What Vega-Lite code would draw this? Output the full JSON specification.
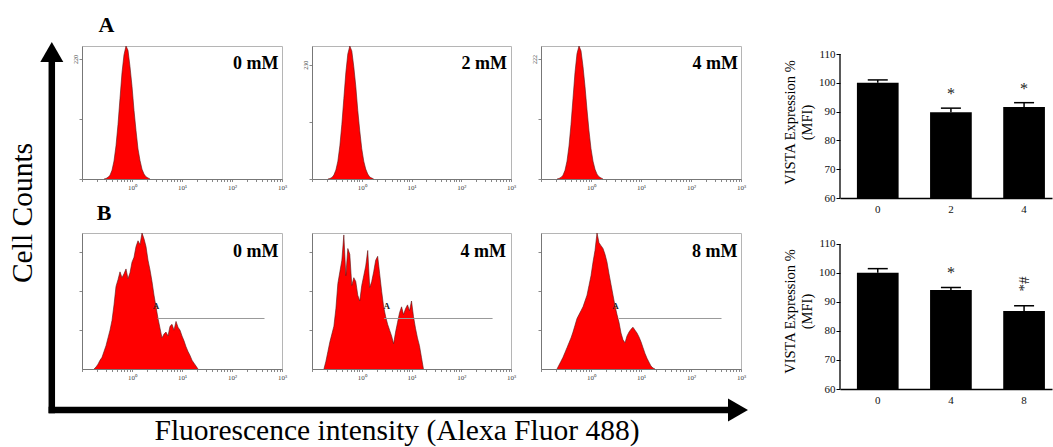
{
"$schema": "https://vega.github.io/schema/vega-lite/v6.json",
"background": "white",
"padding": 0,
"autosize": {"type": "pad"},
"config": {"view": {"stroke": null}, "font": "Liberation Serif"},
"datasets": {
"hist": [
{"panel":"A1","log_intensity":-0.56,"count":0},{"panel":"A1","log_intensity":-0.52,"count":1},{"panel":"A1","log_intensity":-0.48,"count":3},{"panel":"A1","log_intensity":-0.44,"count":7},{"panel":"A1","log_intensity":-0.40,"count":16},{"panel":"A1","log_intensity":-0.36,"count":33},{"panel":"A1","log_intensity":-0.32,"count":61},{"panel":"A1","log_intensity":-0.28,"count":100},{"panel":"A1","log_intensity":-0.24,"count":148},{"panel":"A1","log_intensity":-0.20,"count":195},{"panel":"A1","log_intensity":-0.16,"count":228},{"panel":"A1","log_intensity":-0.12,"count":244},{"panel":"A1","log_intensity":-0.08,"count":236},{"panel":"A1","log_intensity":-0.04,"count":206},{"panel":"A1","log_intensity":0.0,"count":170},{"panel":"A1","log_intensity":0.04,"count":126},{"panel":"A1","log_intensity":0.08,"count":89},{"panel":"A1","log_intensity":0.12,"count":55},{"panel":"A1","log_intensity":0.16,"count":34},{"panel":"A1","log_intensity":0.20,"count":18},{"panel":"A1","log_intensity":0.24,"count":9},{"panel":"A1","log_intensity":0.28,"count":4},{"panel":"A1","log_intensity":0.32,"count":2},{"panel":"A1","log_intensity":0.36,"count":0},
{"panel":"A2","log_intensity":-0.68,"count":0},{"panel":"A2","log_intensity":-0.64,"count":1},{"panel":"A2","log_intensity":-0.60,"count":3},{"panel":"A2","log_intensity":-0.56,"count":8},{"panel":"A2","log_intensity":-0.52,"count":18},{"panel":"A2","log_intensity":-0.48,"count":36},{"panel":"A2","log_intensity":-0.44,"count":67},{"panel":"A2","log_intensity":-0.40,"count":110},{"panel":"A2","log_intensity":-0.36,"count":162},{"panel":"A2","log_intensity":-0.32,"count":214},{"panel":"A2","log_intensity":-0.28,"count":252},{"panel":"A2","log_intensity":-0.24,"count":268},{"panel":"A2","log_intensity":-0.20,"count":258},{"panel":"A2","log_intensity":-0.16,"count":226},{"panel":"A2","log_intensity":-0.12,"count":187},{"panel":"A2","log_intensity":-0.08,"count":138},{"panel":"A2","log_intensity":-0.04,"count":97},{"panel":"A2","log_intensity":0.0,"count":61},{"panel":"A2","log_intensity":0.04,"count":36},{"panel":"A2","log_intensity":0.08,"count":20},{"panel":"A2","log_intensity":0.12,"count":10},{"panel":"A2","log_intensity":0.16,"count":4},{"panel":"A2","log_intensity":0.20,"count":2},{"panel":"A2","log_intensity":0.24,"count":0},
{"panel":"A3","log_intensity":-0.68,"count":0},{"panel":"A3","log_intensity":-0.64,"count":1},{"panel":"A3","log_intensity":-0.60,"count":3},{"panel":"A3","log_intensity":-0.56,"count":7},{"panel":"A3","log_intensity":-0.52,"count":16},{"panel":"A3","log_intensity":-0.48,"count":33},{"panel":"A3","log_intensity":-0.44,"count":61},{"panel":"A3","log_intensity":-0.40,"count":101},{"panel":"A3","log_intensity":-0.36,"count":149},{"panel":"A3","log_intensity":-0.32,"count":197},{"panel":"A3","log_intensity":-0.28,"count":232},{"panel":"A3","log_intensity":-0.24,"count":246},{"panel":"A3","log_intensity":-0.20,"count":237},{"panel":"A3","log_intensity":-0.16,"count":208},{"panel":"A3","log_intensity":-0.12,"count":171},{"panel":"A3","log_intensity":-0.08,"count":128},{"panel":"A3","log_intensity":-0.04,"count":89},{"panel":"A3","log_intensity":0.0,"count":56},{"panel":"A3","log_intensity":0.04,"count":33},{"panel":"A3","log_intensity":0.08,"count":18},{"panel":"A3","log_intensity":0.12,"count":9},{"panel":"A3","log_intensity":0.16,"count":4},{"panel":"A3","log_intensity":0.20,"count":2},{"panel":"A3","log_intensity":0.24,"count":0},
{"panel":"B1","log_intensity":-0.76,"count":0},{"panel":"B1","log_intensity":-0.72,"count":2},{"panel":"B1","log_intensity":-0.68,"count":5},{"panel":"B1","log_intensity":-0.64,"count":9},{"panel":"B1","log_intensity":-0.60,"count":12},{"panel":"B1","log_intensity":-0.56,"count":18},{"panel":"B1","log_intensity":-0.52,"count":24},{"panel":"B1","log_intensity":-0.48,"count":32},{"panel":"B1","log_intensity":-0.44,"count":40},{"panel":"B1","log_intensity":-0.40,"count":50},{"panel":"B1","log_intensity":-0.36,"count":66},{"panel":"B1","log_intensity":-0.32,"count":85},{"panel":"B1","log_intensity":-0.28,"count":92},{"panel":"B1","log_intensity":-0.24,"count":100},{"panel":"B1","log_intensity":-0.20,"count":94},{"panel":"B1","log_intensity":-0.16,"count":98},{"panel":"B1","log_intensity":-0.12,"count":103},{"panel":"B1","log_intensity":-0.08,"count":93},{"panel":"B1","log_intensity":-0.04,"count":99},{"panel":"B1","log_intensity":0.0,"count":110},{"panel":"B1","log_intensity":0.04,"count":115},{"panel":"B1","log_intensity":0.08,"count":126},{"panel":"B1","log_intensity":0.12,"count":132},{"panel":"B1","log_intensity":0.16,"count":128},{"panel":"B1","log_intensity":0.20,"count":140},{"panel":"B1","log_intensity":0.24,"count":134},{"panel":"B1","log_intensity":0.28,"count":126},{"panel":"B1","log_intensity":0.32,"count":112},{"panel":"B1","log_intensity":0.36,"count":102},{"panel":"B1","log_intensity":0.40,"count":90},{"panel":"B1","log_intensity":0.44,"count":76},{"panel":"B1","log_intensity":0.48,"count":64},{"panel":"B1","log_intensity":0.52,"count":52},{"panel":"B1","log_intensity":0.56,"count":42},{"panel":"B1","log_intensity":0.60,"count":32},{"panel":"B1","log_intensity":0.64,"count":36},{"panel":"B1","log_intensity":0.68,"count":38},{"panel":"B1","log_intensity":0.72,"count":34},{"panel":"B1","log_intensity":0.76,"count":44},{"panel":"B1","log_intensity":0.80,"count":46},{"panel":"B1","log_intensity":0.84,"count":40},{"panel":"B1","log_intensity":0.88,"count":49},{"panel":"B1","log_intensity":0.92,"count":43},{"panel":"B1","log_intensity":0.96,"count":40},{"panel":"B1","log_intensity":1.00,"count":34},{"panel":"B1","log_intensity":1.04,"count":29},{"panel":"B1","log_intensity":1.08,"count":23},{"panel":"B1","log_intensity":1.12,"count":18},{"panel":"B1","log_intensity":1.16,"count":14},{"panel":"B1","log_intensity":1.20,"count":9},{"panel":"B1","log_intensity":1.24,"count":6},{"panel":"B1","log_intensity":1.28,"count":3},{"panel":"B1","log_intensity":1.32,"count":0},
{"panel":"B2","log_intensity":-0.76,"count":0},{"panel":"B2","log_intensity":-0.72,"count":8},{"panel":"B2","log_intensity":-0.68,"count":18},{"panel":"B2","log_intensity":-0.64,"count":28},{"panel":"B2","log_intensity":-0.60,"count":36},{"panel":"B2","log_intensity":-0.56,"count":44},{"panel":"B2","log_intensity":-0.52,"count":62},{"panel":"B2","log_intensity":-0.48,"count":88},{"panel":"B2","log_intensity":-0.44,"count":100},{"panel":"B2","log_intensity":-0.40,"count":112},{"panel":"B2","log_intensity":-0.36,"count":138},{"panel":"B2","log_intensity":-0.32,"count":96},{"panel":"B2","log_intensity":-0.28,"count":124},{"panel":"B2","log_intensity":-0.24,"count":118},{"panel":"B2","log_intensity":-0.20,"count":86},{"panel":"B2","log_intensity":-0.16,"count":94},{"panel":"B2","log_intensity":-0.12,"count":90},{"panel":"B2","log_intensity":-0.08,"count":76},{"panel":"B2","log_intensity":-0.04,"count":70},{"panel":"B2","log_intensity":0.0,"count":86},{"panel":"B2","log_intensity":0.04,"count":96},{"panel":"B2","log_intensity":0.08,"count":106},{"panel":"B2","log_intensity":0.12,"count":122},{"panel":"B2","log_intensity":0.16,"count":84},{"panel":"B2","log_intensity":0.20,"count":90},{"panel":"B2","log_intensity":0.24,"count":100},{"panel":"B2","log_intensity":0.28,"count":112},{"panel":"B2","log_intensity":0.32,"count":116},{"panel":"B2","log_intensity":0.36,"count":98},{"panel":"B2","log_intensity":0.40,"count":80},{"panel":"B2","log_intensity":0.44,"count":64},{"panel":"B2","log_intensity":0.48,"count":54},{"panel":"B2","log_intensity":0.52,"count":46},{"panel":"B2","log_intensity":0.56,"count":40},{"panel":"B2","log_intensity":0.60,"count":34},{"panel":"B2","log_intensity":0.64,"count":26},{"panel":"B2","log_intensity":0.68,"count":38},{"panel":"B2","log_intensity":0.72,"count":48},{"panel":"B2","log_intensity":0.76,"count":58},{"panel":"B2","log_intensity":0.80,"count":64},{"panel":"B2","log_intensity":0.84,"count":56},{"panel":"B2","log_intensity":0.88,"count":62},{"panel":"B2","log_intensity":0.92,"count":66},{"panel":"B2","log_intensity":0.96,"count":60},{"panel":"B2","log_intensity":1.00,"count":70},{"panel":"B2","log_intensity":1.04,"count":54},{"panel":"B2","log_intensity":1.08,"count":42},{"panel":"B2","log_intensity":1.12,"count":32},{"panel":"B2","log_intensity":1.16,"count":24},{"panel":"B2","log_intensity":1.20,"count":12},{"panel":"B2","log_intensity":1.24,"count":0},
{"panel":"B3","log_intensity":-0.68,"count":0},{"panel":"B3","log_intensity":-0.64,"count":4},{"panel":"B3","log_intensity":-0.60,"count":8},{"panel":"B3","log_intensity":-0.56,"count":12},{"panel":"B3","log_intensity":-0.52,"count":17},{"panel":"B3","log_intensity":-0.48,"count":22},{"panel":"B3","log_intensity":-0.44,"count":27},{"panel":"B3","log_intensity":-0.40,"count":32},{"panel":"B3","log_intensity":-0.36,"count":38},{"panel":"B3","log_intensity":-0.32,"count":45},{"panel":"B3","log_intensity":-0.28,"count":52},{"panel":"B3","log_intensity":-0.24,"count":56},{"panel":"B3","log_intensity":-0.20,"count":60},{"panel":"B3","log_intensity":-0.16,"count":64},{"panel":"B3","log_intensity":-0.12,"count":70},{"panel":"B3","log_intensity":-0.08,"count":76},{"panel":"B3","log_intensity":-0.04,"count":86},{"panel":"B3","log_intensity":0.0,"count":96},{"panel":"B3","log_intensity":0.04,"count":110},{"panel":"B3","log_intensity":0.08,"count":122},{"panel":"B3","log_intensity":0.12,"count":140},{"panel":"B3","log_intensity":0.16,"count":130},{"panel":"B3","log_intensity":0.20,"count":127},{"panel":"B3","log_intensity":0.24,"count":124},{"panel":"B3","log_intensity":0.28,"count":118},{"panel":"B3","log_intensity":0.32,"count":110},{"panel":"B3","log_intensity":0.36,"count":98},{"panel":"B3","log_intensity":0.40,"count":87},{"panel":"B3","log_intensity":0.44,"count":76},{"panel":"B3","log_intensity":0.48,"count":65},{"panel":"B3","log_intensity":0.52,"count":56},{"panel":"B3","log_intensity":0.56,"count":48},{"panel":"B3","log_intensity":0.60,"count":37},{"panel":"B3","log_intensity":0.64,"count":30},{"panel":"B3","log_intensity":0.68,"count":27},{"panel":"B3","log_intensity":0.72,"count":34},{"panel":"B3","log_intensity":0.76,"count":38},{"panel":"B3","log_intensity":0.80,"count":41},{"panel":"B3","log_intensity":0.84,"count":43},{"panel":"B3","log_intensity":0.88,"count":40},{"panel":"B3","log_intensity":0.92,"count":37},{"panel":"B3","log_intensity":0.96,"count":33},{"panel":"B3","log_intensity":1.00,"count":28},{"panel":"B3","log_intensity":1.04,"count":22},{"panel":"B3","log_intensity":1.08,"count":16},{"panel":"B3","log_intensity":1.12,"count":11},{"panel":"B3","log_intensity":1.16,"count":7},{"panel":"B3","log_intensity":1.20,"count":3},{"panel":"B3","log_intensity":1.24,"count":1},{"panel":"B3","log_intensity":1.28,"count":0}
],
"barsA": [{"conc":"0","mfi":100.0,"hi":101.0,"sig":""},{"conc":"2","mfi":89.8,"hi":91.2,"sig":"*"},{"conc":"4","mfi":91.6,"hi":93.1,"sig":"*"}],
"barsB": [{"conc":"0","mfi":100.1,"hi":101.5,"sig":""},{"conc":"4","mfi":94.1,"hi":95.0,"sig":"*"},{"conc":"8","mfi":86.9,"hi":88.7,"sig":""}]
},
"columns": 5,
"align": "each",
"bounds": "flush",
"spacing": {"row": 35, "column": 30},
"concat": [
{
 "width": 52, "height": 11,
 "data": {"values": [{}]},
 "layer": [
  {"mark": {"type": "rect", "color": "white"},
   "encoding": {
    "x": {"datum": 0, "type": "quantitative", "scale": {"domain": [0, 52], "nice": false, "zero": false}, "axis": null},
    "x2": {"datum": 1053},
    "y": {"datum": 0, "type": "quantitative", "scale": {"domain": [0, 11], "nice": false, "zero": false, "reverse": true}, "axis": null},
    "y2": {"datum": 447}}},
  {"mark": {"type": "rule", "color": "black", "strokeWidth": 6.5},
   "encoding": {"x": {"datum": 51.8, "type": "quantitative", "axis": null}, "y": {"datum": 55, "type": "quantitative", "axis": null}, "y2": {"datum": 413.3}}},
  {"mark": {"type": "rule", "color": "black", "strokeWidth": 6.5},
   "encoding": {"x": {"datum": 48.6, "type": "quantitative", "axis": null}, "x2": {"datum": 735}, "y": {"datum": 410, "type": "quantitative", "axis": null}}},
  {"mark": {"type": "point", "shape": "triangle-up", "filled": true, "color": "black", "opacity": 1, "size": 530, "strokeWidth": 0},
   "encoding": {"x": {"datum": 51.8, "type": "quantitative", "axis": null}, "y": {"datum": 52, "type": "quantitative", "axis": null}}},
  {"mark": {"type": "point", "shape": "triangle-right", "filled": true, "color": "black", "opacity": 1, "size": 530, "strokeWidth": 0},
   "encoding": {"x": {"datum": 738, "type": "quantitative", "axis": null}, "y": {"datum": 410, "type": "quantitative", "axis": null}}},
  {"mark": {"type": "text", "angle": 270, "align": "center", "baseline": "middle", "fontSize": 29.5, "font": "Liberation Serif", "color": "black"},
   "encoding": {"x": {"datum": 23, "type": "quantitative", "axis": null}, "y": {"datum": 213, "type": "quantitative", "axis": null}, "text": {"value": "Cell Counts"}}},
  {"mark": {"type": "text", "align": "center", "baseline": "alphabetic", "fontSize": 29.5, "font": "Liberation Serif", "color": "black"},
   "encoding": {"x": {"datum": 397, "type": "quantitative", "axis": null}, "y": {"datum": 440, "type": "quantitative", "axis": null}, "text": {"value": "Fluorescence intensity (Alexa Fluor 488)"}}},
  {"mark": {"type": "text", "align": "center", "baseline": "alphabetic", "fontSize": 22, "fontWeight": "bold", "font": "Liberation Serif", "color": "black"},
   "encoding": {"x": {"datum": 106.5, "type": "quantitative", "axis": null}, "y": {"datum": 31.7, "type": "quantitative", "axis": null}, "text": {"value": "A"}}},
  {"mark": {"type": "text", "align": "center", "baseline": "alphabetic", "fontSize": 22, "fontWeight": "bold", "font": "Liberation Serif", "color": "black"},
   "encoding": {"x": {"datum": 104, "type": "quantitative", "axis": null}, "y": {"datum": 220, "type": "quantitative", "axis": null}, "text": {"value": "B"}}}
 ]
},
{"width": 1, "height": 1, "data": {"values": []}, "mark": "point"},
{"width": 1, "height": 1, "data": {"values": []}, "mark": "point"},
{"width": 269, "height": 1, "data": {"values": []}, "mark": "point"},
{"width": 1, "height": 1, "data": {"values": []}, "mark": "point"},
{"width": 1, "height": 1, "data": {"values": []}, "mark": "point"},
{
 "width": 200, "height": 133, "view": {"stroke": "#b5b5b5"},
 "resolve": {"axis": {"x": "independent", "y": "independent"}},
 "layer": [
  {"data": {"name": "hist"}, "transform": [{"filter": "datum.panel == 'A1'"}],
   "mark": {"type": "area", "color": "#ff0000", "opacity": 1, "line": {"color": "#5a1515", "strokeWidth": 0.6}},
   "encoding": {
    "x": {"field": "log_intensity", "type": "quantitative", "scale": {"domain": [-1, 3], "nice": false, "zero": false},
     "axis": {"values": [-1,-0.699,-0.523,-0.398,-0.301,-0.222,-0.155,-0.097,-0.046,0,0.301,0.477,0.602,0.699,0.778,0.845,0.903,0.954,1,1.301,1.477,1.602,1.699,1.778,1.845,1.903,1.954,2,2.301,2.477,2.602,2.699,2.778,2.845,2.903,2.954,3],
      "labelExpr": "datum.value == 0 ? '10⁰' : datum.value == 1 ? '10¹' : datum.value == 2 ? '10²' : datum.value == 3 ? '10³' : ''",
      "title": null, "grid": false, "domainColor": "#777", "tickColor": "#888", "tickSize": 2.5, "labelFontSize": 7, "labelColor": "#444", "labelFlush": false, "labelOverlap": false, "labelPadding": 2}},
    "y": {"field": "count", "type": "quantitative", "scale": {"domain": [0, 244], "nice": false},
     "axis": {"values": [0, 110, 220], "labelExpr": "datum.value == 220 ? '220' : ''", "labelAngle": 270, "labelFontSize": 6, "labelColor": "#444", "title": null, "grid": false, "domainColor": "#777", "tickColor": "#888", "tickSize": 3, "labelPadding": 1, "labelOverlap": false}}}},
  {"data": {"values": [{"label": "0 mM"}]},
   "mark": {"type": "text", "fontSize": 18, "fontWeight": "bold", "align": "right", "baseline": "middle", "color": "black"},
   "encoding": {"x": {"datum": 2.93, "axis": null}, "y": {"datum": 211, "axis": null}, "text": {"field": "label"}}}
 ]
},
{
 "width": 199, "height": 133, "view": {"stroke": "#b5b5b5"},
 "resolve": {"axis": {"x": "independent", "y": "independent"}},
 "layer": [
  {"data": {"name": "hist"}, "transform": [{"filter": "datum.panel == 'A2'"}],
   "mark": {"type": "area", "color": "#ff0000", "opacity": 1, "line": {"color": "#5a1515", "strokeWidth": 0.6}},
   "encoding": {
    "x": {"field": "log_intensity", "type": "quantitative", "scale": {"domain": [-1, 3], "nice": false, "zero": false},
     "axis": {"values": [-1,-0.699,-0.523,-0.398,-0.301,-0.222,-0.155,-0.097,-0.046,0,0.301,0.477,0.602,0.699,0.778,0.845,0.903,0.954,1,1.301,1.477,1.602,1.699,1.778,1.845,1.903,1.954,2,2.301,2.477,2.602,2.699,2.778,2.845,2.903,2.954,3],
      "labelExpr": "datum.value == 0 ? '10⁰' : datum.value == 1 ? '10¹' : datum.value == 2 ? '10²' : datum.value == 3 ? '10³' : ''",
      "title": null, "grid": false, "domainColor": "#777", "tickColor": "#888", "tickSize": 2.5, "labelFontSize": 7, "labelColor": "#444", "labelFlush": false, "labelOverlap": false, "labelPadding": 2}},
    "y": {"field": "count", "type": "quantitative", "scale": {"domain": [0, 268], "nice": false},
     "axis": {"values": [0, 115, 230], "labelExpr": "datum.value == 230 ? '230' : ''", "labelAngle": 270, "labelFontSize": 6, "labelColor": "#444", "title": null, "grid": false, "domainColor": "#777", "tickColor": "#888", "tickSize": 3, "labelPadding": 1, "labelOverlap": false}}}},
  {"data": {"values": [{"label": "2 mM"}]},
   "mark": {"type": "text", "fontSize": 18, "fontWeight": "bold", "align": "right", "baseline": "middle", "color": "black"},
   "encoding": {"x": {"datum": 2.92, "axis": null}, "y": {"datum": 232, "axis": null}, "text": {"field": "label"}}}
 ]
},
{
 "width": 200, "height": 133, "view": {"stroke": "#b5b5b5"},
 "resolve": {"axis": {"x": "independent", "y": "independent"}},
 "layer": [
  {"data": {"name": "hist"}, "transform": [{"filter": "datum.panel == 'A3'"}],
   "mark": {"type": "area", "color": "#ff0000", "opacity": 1, "line": {"color": "#5a1515", "strokeWidth": 0.6}},
   "encoding": {
    "x": {"field": "log_intensity", "type": "quantitative", "scale": {"domain": [-1, 3], "nice": false, "zero": false},
     "axis": {"values": [-1,-0.699,-0.523,-0.398,-0.301,-0.222,-0.155,-0.097,-0.046,0,0.301,0.477,0.602,0.699,0.778,0.845,0.903,0.954,1,1.301,1.477,1.602,1.699,1.778,1.845,1.903,1.954,2,2.301,2.477,2.602,2.699,2.778,2.845,2.903,2.954,3],
      "labelExpr": "datum.value == 0 ? '10⁰' : datum.value == 1 ? '10¹' : datum.value == 2 ? '10²' : datum.value == 3 ? '10³' : ''",
      "title": null, "grid": false, "domainColor": "#777", "tickColor": "#888", "tickSize": 2.5, "labelFontSize": 7, "labelColor": "#444", "labelFlush": false, "labelOverlap": false, "labelPadding": 2}},
    "y": {"field": "count", "type": "quantitative", "scale": {"domain": [0, 246], "nice": false},
     "axis": {"values": [0, 111, 222], "labelExpr": "datum.value == 222 ? '222' : ''", "labelAngle": 270, "labelFontSize": 6, "labelColor": "#444", "title": null, "grid": false, "domainColor": "#777", "tickColor": "#888", "tickSize": 3, "labelPadding": 1, "labelOverlap": false}}}},
  {"data": {"values": [{"label": "4 mM"}]},
   "mark": {"type": "text", "fontSize": 18, "fontWeight": "bold", "align": "right", "baseline": "middle", "color": "black"},
   "encoding": {"x": {"datum": 2.94, "axis": null}, "y": {"datum": 213, "axis": null}, "text": {"field": "label"}}}
 ]
},
{
 "width": 212, "height": 152,
 "resolve": {"scale": {"x": "independent"}, "axis": {"x": "independent", "y": "independent"}},
 "layer": [
  {"data": {"name": "barsA"},
   "resolve": {"axis": {"x": "independent", "y": "independent"}},
   "layer": [
    {"mark": {"type": "bar", "color": "black", "clip": true},
     "encoding": {
      "x": {"field": "conc", "type": "ordinal", "sort": null, "scale": {"paddingInner": 0.43, "paddingOuter": 0.164, "align": 0.705},
       "axis": {"title": null, "labelAngle": 0, "ticks": false, "domainColor": "black", "domainWidth": 1.3, "labelFontSize": 11, "labelColor": "#111", "labelPadding": 5}},
      "y": {"field": "mfi", "type": "quantitative", "scale": {"domain": [60, 112.78], "nice": false, "zero": false},
       "axis": {"values": [60, 70, 80, 90, 100, 110], "domain": false, "grid": false, "tickColor": "black", "tickSize": 4, "labelFontSize": 11, "labelColor": "#111", "labelPadding": 1, "labelOverlap": false,
        "title": ["VISTA Expression %", "(MFI)"], "titleFontSize": 14.5, "titleLineHeight": 17, "titleFontWeight": "normal", "titleColor": "black", "titlePadding": 4}}}},
    {"mark": {"type": "rule", "color": "black", "strokeWidth": 1.5},
     "encoding": {"x": {"field": "conc", "type": "ordinal", "sort": null, "axis": null}, "y": {"field": "mfi", "type": "quantitative", "axis": null}, "y2": {"field": "hi"}}},
    {"mark": {"type": "tick", "color": "black", "opacity": 1, "size": 20, "thickness": 1.5},
     "encoding": {"x": {"field": "conc", "type": "ordinal", "sort": null, "axis": null}, "y": {"field": "hi", "type": "quantitative", "axis": null}}},
    {"mark": {"type": "text", "fontSize": 16, "dy": -9, "baseline": "alphabetic", "align": "center", "color": "#222"},
     "encoding": {"x": {"field": "conc", "type": "ordinal", "sort": null, "axis": null}, "y": {"field": "hi", "type": "quantitative", "axis": null}, "text": {"field": "sig"}}}
   ]},
  {"data": {"values": [{}]},
   "mark": {"type": "rule", "color": "black", "strokeWidth": 1.3},
   "encoding": {"x": {"datum": 0, "type": "quantitative", "scale": {"domain": [0, 1], "nice": false, "zero": false}, "axis": null}, "y": {"datum": 60, "type": "quantitative", "axis": null}, "y2": {"datum": 110}}}
 ]
},
{"width": 1, "height": 1, "data": {"values": []}, "mark": "point"},
{
 "width": 200, "height": 136, "view": {"stroke": "#b5b5b5"},
 "resolve": {"axis": {"x": "independent", "y": "independent"}},
 "layer": [
  {"data": {"name": "hist"}, "transform": [{"filter": "datum.panel == 'B1'"}],
   "mark": {"type": "area", "color": "#ff0000", "opacity": 1, "line": {"color": "#5a1515", "strokeWidth": 0.6}},
   "encoding": {
    "x": {"field": "log_intensity", "type": "quantitative", "scale": {"domain": [-1, 3], "nice": false, "zero": false},
     "axis": {"values": [-1,-0.699,-0.523,-0.398,-0.301,-0.222,-0.155,-0.097,-0.046,0,0.301,0.477,0.602,0.699,0.778,0.845,0.903,0.954,1,1.301,1.477,1.602,1.699,1.778,1.845,1.903,1.954,2,2.301,2.477,2.602,2.699,2.778,2.845,2.903,2.954,3],
      "labelExpr": "datum.value == 0 ? '10⁰' : datum.value == 1 ? '10¹' : datum.value == 2 ? '10²' : datum.value == 3 ? '10³' : ''",
      "title": null, "grid": false, "domainColor": "#777", "tickColor": "#888", "tickSize": 2.5, "labelFontSize": 7, "labelColor": "#444", "labelFlush": false, "labelOverlap": false, "labelPadding": 2}},
    "y": {"field": "count", "type": "quantitative", "scale": {"domain": [0, 140], "nice": false},
     "axis": {"values": [40, 80, 120], "labels": false, "title": null, "grid": false, "domainColor": "#777", "tickColor": "#888", "tickSize": 3}}}},
  {"data": {"values": [{}]},
   "mark": {"type": "rule", "color": "#999", "strokeWidth": 1},
   "encoding": {"x": {"datum": 0.51, "axis": null}, "x2": {"datum": 2.65}, "y": {"datum": 52, "axis": null}}},
  {"data": {"values": [{"label": "A"}]},
   "mark": {"type": "text", "fontSize": 9, "fontWeight": "bold", "align": "center", "baseline": "middle", "color": "#222"},
   "encoding": {"x": {"datum": 0.48, "axis": null}, "y": {"datum": 65, "axis": null}, "text": {"field": "label"}}},
  {"data": {"values": [{"label": "0 mM"}]},
   "mark": {"type": "text", "fontSize": 18, "fontWeight": "bold", "align": "right", "baseline": "middle", "color": "black"},
   "encoding": {"x": {"datum": 2.93, "axis": null}, "y": {"datum": 120.7, "axis": null}, "text": {"field": "label"}}}
 ]
},
{
 "width": 199, "height": 136, "view": {"stroke": "#b5b5b5"},
 "resolve": {"axis": {"x": "independent", "y": "independent"}},
 "layer": [
  {"data": {"name": "hist"}, "transform": [{"filter": "datum.panel == 'B2'"}],
   "mark": {"type": "area", "color": "#ff0000", "opacity": 1, "line": {"color": "#5a1515", "strokeWidth": 0.6}},
   "encoding": {
    "x": {"field": "log_intensity", "type": "quantitative", "scale": {"domain": [-1, 3], "nice": false, "zero": false},
     "axis": {"values": [-1,-0.699,-0.523,-0.398,-0.301,-0.222,-0.155,-0.097,-0.046,0,0.301,0.477,0.602,0.699,0.778,0.845,0.903,0.954,1,1.301,1.477,1.602,1.699,1.778,1.845,1.903,1.954,2,2.301,2.477,2.602,2.699,2.778,2.845,2.903,2.954,3],
      "labelExpr": "datum.value == 0 ? '10⁰' : datum.value == 1 ? '10¹' : datum.value == 2 ? '10²' : datum.value == 3 ? '10³' : ''",
      "title": null, "grid": false, "domainColor": "#777", "tickColor": "#888", "tickSize": 2.5, "labelFontSize": 7, "labelColor": "#444", "labelFlush": false, "labelOverlap": false, "labelPadding": 2}},
    "y": {"field": "count", "type": "quantitative", "scale": {"domain": [0, 140], "nice": false},
     "axis": {"values": [40, 80, 120], "labels": false, "title": null, "grid": false, "domainColor": "#777", "tickColor": "#888", "tickSize": 3}}}},
  {"data": {"values": [{}]},
   "mark": {"type": "rule", "color": "#999", "strokeWidth": 1},
   "encoding": {"x": {"datum": 0.45, "axis": null}, "x2": {"datum": 2.63}, "y": {"datum": 52, "axis": null}}},
  {"data": {"values": [{"label": "A"}]},
   "mark": {"type": "text", "fontSize": 9, "fontWeight": "bold", "align": "center", "baseline": "middle", "color": "#222"},
   "encoding": {"x": {"datum": 0.5, "axis": null}, "y": {"datum": 65, "axis": null}, "text": {"field": "label"}}},
  {"data": {"values": [{"label": "4 mM"}]},
   "mark": {"type": "text", "fontSize": 18, "fontWeight": "bold", "align": "right", "baseline": "middle", "color": "black"},
   "encoding": {"x": {"datum": 2.9, "axis": null}, "y": {"datum": 120.7, "axis": null}, "text": {"field": "label"}}}
 ]
},
{
 "width": 200, "height": 136, "view": {"stroke": "#b5b5b5"},
 "resolve": {"axis": {"x": "independent", "y": "independent"}},
 "layer": [
  {"data": {"name": "hist"}, "transform": [{"filter": "datum.panel == 'B3'"}],
   "mark": {"type": "area", "color": "#ff0000", "opacity": 1, "line": {"color": "#5a1515", "strokeWidth": 0.6}},
   "encoding": {
    "x": {"field": "log_intensity", "type": "quantitative", "scale": {"domain": [-1, 3], "nice": false, "zero": false},
     "axis": {"values": [-1,-0.699,-0.523,-0.398,-0.301,-0.222,-0.155,-0.097,-0.046,0,0.301,0.477,0.602,0.699,0.778,0.845,0.903,0.954,1,1.301,1.477,1.602,1.699,1.778,1.845,1.903,1.954,2,2.301,2.477,2.602,2.699,2.778,2.845,2.903,2.954,3],
      "labelExpr": "datum.value == 0 ? '10⁰' : datum.value == 1 ? '10¹' : datum.value == 2 ? '10²' : datum.value == 3 ? '10³' : ''",
      "title": null, "grid": false, "domainColor": "#777", "tickColor": "#888", "tickSize": 2.5, "labelFontSize": 7, "labelColor": "#444", "labelFlush": false, "labelOverlap": false, "labelPadding": 2}},
    "y": {"field": "count", "type": "quantitative", "scale": {"domain": [0, 140], "nice": false},
     "axis": {"values": [40, 80, 120], "labels": false, "title": null, "grid": false, "domainColor": "#777", "tickColor": "#888", "tickSize": 3}}}},
  {"data": {"values": [{}]},
   "mark": {"type": "rule", "color": "#999", "strokeWidth": 1},
   "encoding": {"x": {"datum": 0.56, "axis": null}, "x2": {"datum": 2.61}, "y": {"datum": 52, "axis": null}}},
  {"data": {"values": [{"label": "A"}]},
   "mark": {"type": "text", "fontSize": 9, "fontWeight": "bold", "align": "center", "baseline": "middle", "color": "#222"},
   "encoding": {"x": {"datum": 0.49, "axis": null}, "y": {"datum": 65, "axis": null}, "text": {"field": "label"}}},
  {"data": {"values": [{"label": "8 mM"}]},
   "mark": {"type": "text", "fontSize": 18, "fontWeight": "bold", "align": "right", "baseline": "middle", "color": "black"},
   "encoding": {"x": {"datum": 2.93, "axis": null}, "y": {"datum": 120.7, "axis": null}, "text": {"field": "label"}}}
 ]
},
{
 "width": 212, "height": 156,
 "resolve": {"scale": {"x": "independent"}, "axis": {"x": "independent", "y": "independent"}},
 "layer": [
  {"data": {"name": "barsB"},
   "resolve": {"axis": {"x": "independent", "y": "independent"}},
   "layer": [
    {"mark": {"type": "bar", "color": "black", "clip": true},
     "encoding": {
      "x": {"field": "conc", "type": "ordinal", "sort": null, "scale": {"paddingInner": 0.43, "paddingOuter": 0.164, "align": 0.705},
       "axis": {"title": null, "labelAngle": 0, "ticks": false, "domainColor": "black", "domainWidth": 1.3, "labelFontSize": 11, "labelColor": "#111", "labelPadding": 5}},
      "y": {"field": "mfi", "type": "quantitative", "scale": {"domain": [60, 113.79], "nice": false, "zero": false},
       "axis": {"values": [60, 70, 80, 90, 100, 110], "domain": false, "grid": false, "tickColor": "black", "tickSize": 4, "labelFontSize": 11, "labelColor": "#111", "labelPadding": 1, "labelOverlap": false,
        "title": ["VISTA Expression %", "(MFI)"], "titleFontSize": 14.5, "titleLineHeight": 17, "titleFontWeight": "normal", "titleColor": "black", "titlePadding": 4}}}},
    {"mark": {"type": "rule", "color": "black", "strokeWidth": 1.5},
     "encoding": {"x": {"field": "conc", "type": "ordinal", "sort": null, "axis": null}, "y": {"field": "mfi", "type": "quantitative", "axis": null}, "y2": {"field": "hi"}}},
    {"mark": {"type": "tick", "color": "black", "opacity": 1, "size": 20, "thickness": 1.5},
     "encoding": {"x": {"field": "conc", "type": "ordinal", "sort": null, "axis": null}, "y": {"field": "hi", "type": "quantitative", "axis": null}}},
    {"mark": {"type": "text", "fontSize": 16, "dy": -9, "baseline": "alphabetic", "align": "center", "color": "#222"},
     "encoding": {"x": {"field": "conc", "type": "ordinal", "sort": null, "axis": null}, "y": {"field": "hi", "type": "quantitative", "axis": null}, "text": {"field": "sig"}}},
    {"data": {"values": [{"label": "*#"}]},
     "mark": {"type": "text", "fontSize": 15, "angle": 270, "baseline": "middle", "align": "center", "color": "#222"},
     "encoding": {"x": {"datum": "8", "type": "ordinal", "axis": null}, "y": {"datum": 96.2, "type": "quantitative", "axis": null}, "text": {"field": "label"}}}
   ]},
  {"data": {"values": [{}]},
   "mark": {"type": "rule", "color": "black", "strokeWidth": 1.3},
   "encoding": {"x": {"datum": 0, "type": "quantitative", "scale": {"domain": [0, 1], "nice": false, "zero": false}, "axis": null}, "y": {"datum": 60, "type": "quantitative", "axis": null}, "y2": {"datum": 110}}}
 ]
}
]
}
